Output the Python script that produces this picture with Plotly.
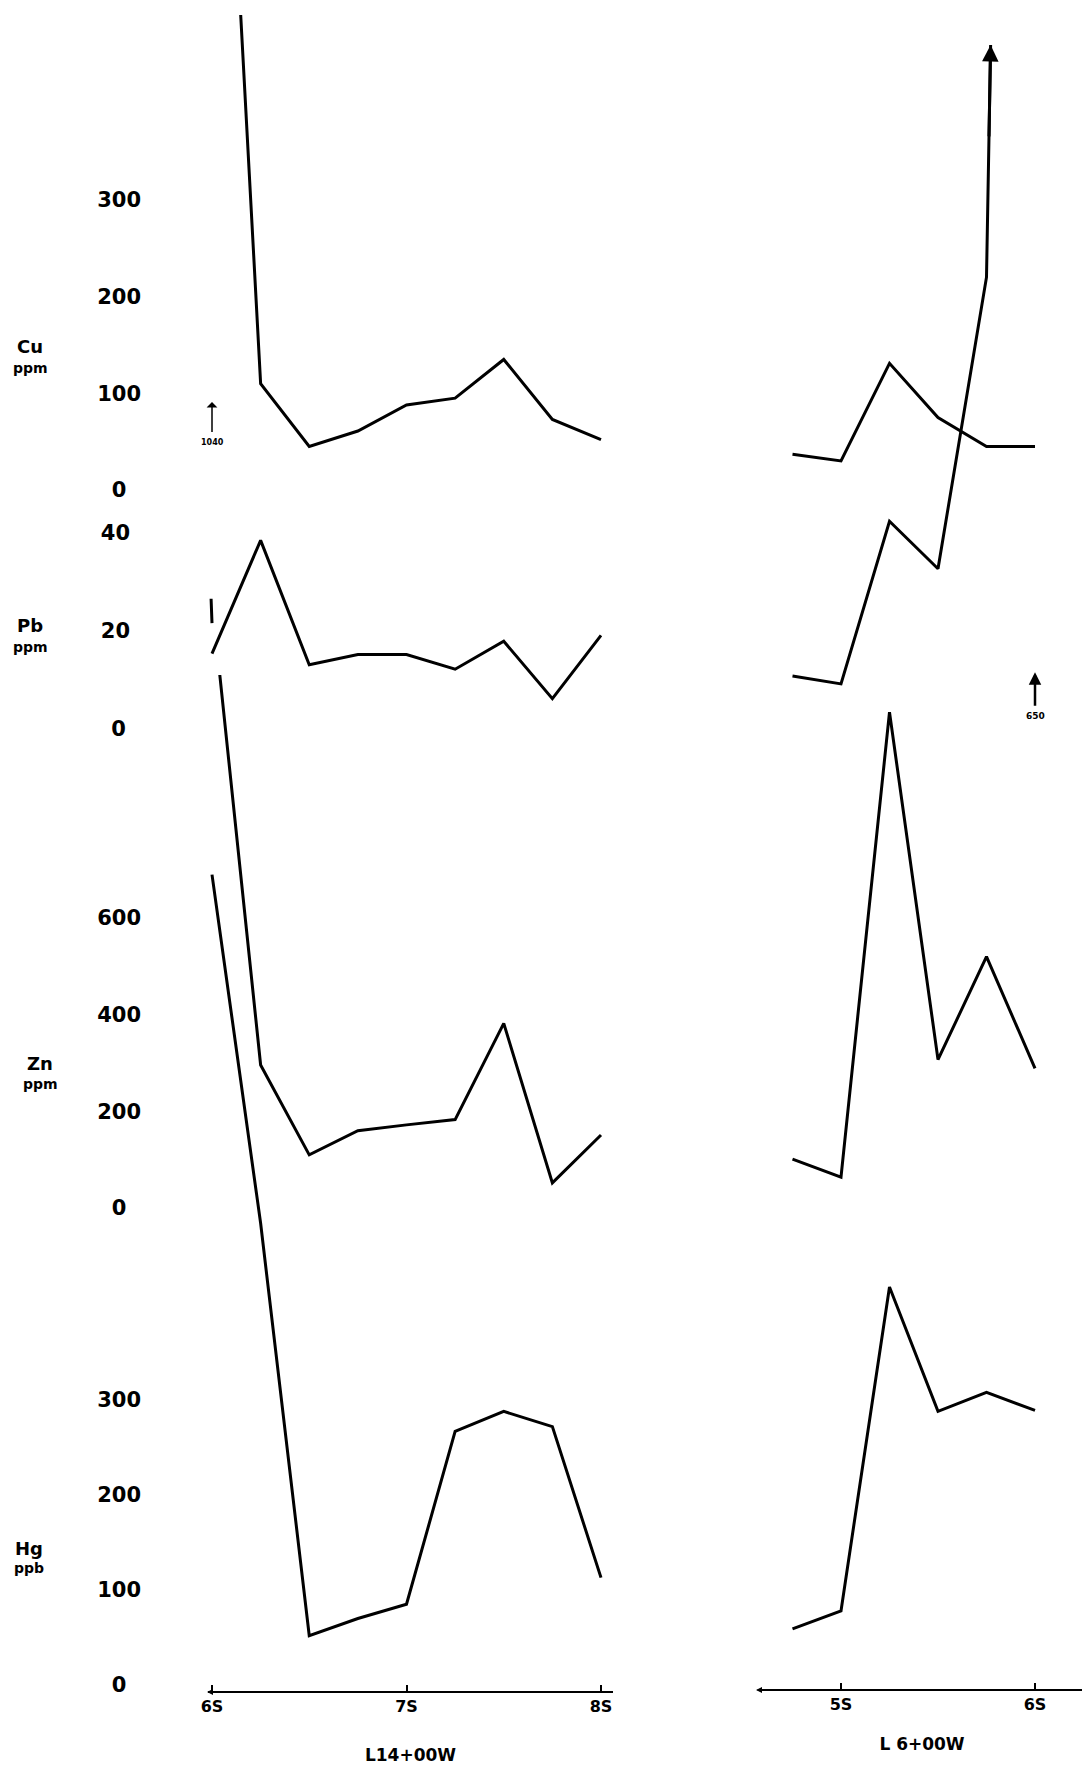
import plotly.graph_objects as go

# ---------------- data (read from the scanned profile) ----------------
L14_STATIONS = [6.0, 6.25, 6.5, 6.75, 7.0, 7.25, 7.5, 7.75, 8.0]
L6_STATIONS = [4.75, 5.0, 5.25, 5.5, 5.75, 6.0]

CU_L14 = [1040, 110, 45, 61, 88, 95, 135, 73, 52]
CU_L6 = [37, 30, 131, 75, 45, 45]
PB_L14 = [15.4, 38.5, 13.1, 15.2, 15.2, 12.2, 17.9, 6.2, 19.1]
PB_L6 = [10.8, 9.2, 42.4, 32.7, 92.2, 650]
ZN_L14 = [1257, 296, 110, 160, 172, 183, 382, 52, 151]
ZN_L6 = [101, 64, 1026, 307, 520, 289]
HG_L14 = [853, 486, 52, 70, 85, 267, 288, 272, 113]
HG_L6 = [59, 78, 419, 288, 308, 289]

CU_TICKS = [0, 100, 200, 300]
PB_TICKS = [0, 20, 40]
ZN_TICKS = [0, 200, 400, 600]
HG_TICKS = [0, 100, 200, 300]
L14_TICKS = [6, 7, 8]
L14_LABELS = ["6S", "7S", "8S"]
L6_TICKS = [5, 6]
L6_LABELS = ["5S", "6S"]

# ---------------- geometry ----------------
# the page body keeps its default 8 px margin, so the figure is 16 px smaller
OFF = 8
W, H = 1090 - 2 * OFF, 1773 - 2 * OFF
FONT = "DejaVu Sans"


def py(p):
    """screen pixel row -> paper y"""
    return 1 - (p - OFF) / H


def px(p):
    """screen pixel column -> paper x"""
    return (p - OFF) / W


def yrange(zero_px, scale, top_px, bottom_px):
    return [(zero_px - bottom_px) / scale, (zero_px - top_px) / scale]


# zero pixel, px per unit, domain top px, domain bottom px (screen rows)
PANELS = {
    "Cu": (490, 0.967, 15, 510),
    "Pb": (729, 4.9, 45, 745),
    "Zn": (1208, 0.4833, 675, 1225),
    "Hg": (1685, 0.95, 860, 1688),
}

fig = go.Figure()

LINE = dict(color="black", width=3)
series = [
    (L14_STATIONS, CU_L14, "x", "y"), (L6_STATIONS, CU_L6, "x2", "y"),
    (L14_STATIONS, PB_L14, "x", "y2"), (L6_STATIONS, PB_L6, "x2", "y2"),
    (L14_STATIONS, ZN_L14, "x", "y3"), (L6_STATIONS, ZN_L6, "x2", "y3"),
    (L14_STATIONS, HG_L14, "x", "y4"), (L6_STATIONS, HG_L6, "x2", "y4"),
]
for xs, ys, xa, ya in series:
    fig.add_trace(go.Scatter(x=xs, y=ys, mode="lines", line=LINE,
                             xaxis=xa, yaxis=ya, showlegend=False,
                             hoverinfo="skip"))


def tick_text(vals, pad):
    out = []
    for v in vals:
        s = str(v)
        if len(s) == 1:
            s = s + pad
        out.append(s)
    return out


def yaxis_cfg(name, ticks, pos_px, pad="\u2007"):
    z, s, t, b = PANELS[name]
    return dict(domain=[py(b), py(t)], range=yrange(z, s, t, b),
                anchor="free", position=px(pos_px), side="left",
                showgrid=False, zeroline=False, showline=False, ticks="",
                tickvals=ticks, ticktext=tick_text(ticks, pad), automargin=False,
                tickfont=dict(family=FONT, size=21, color="black", weight="bold"))


xbase = dict(anchor="free", showgrid=False, zeroline=False, showline=True,
             linecolor="black", linewidth=2, ticks="inside", ticklen=6,
             tickwidth=2, tickcolor="black", automargin=False,
             tickfont=dict(family=FONT, size=16, color="black", weight="bold"))

L14_X0, L14_X1 = 212, 601      # screen columns of 6S and 8S
L6_X0, L6_X1 = 841, 1035       # screen columns of 5S and 6S
s14 = (L14_X1 - L14_X0) / 2
s6 = (L6_X1 - L6_X0) / 1
L6_LEFT = 762
L6_RIGHT = OFF + W

fig.update_layout(
    width=W, height=H, margin=dict(l=0, r=0, t=0, b=0),
    paper_bgcolor="white", plot_bgcolor="rgba(0,0,0,0)",
    xaxis=dict(xbase, domain=[px(208), px(613)],
               range=[6 - (L14_X0 - 208) / s14, 8 + (613 - L14_X1) / s14],
               position=py(1692),
               tickvals=L14_TICKS, ticktext=L14_LABELS,
               title=dict(text="L14+00W", standoff=35,
                          font=dict(family=FONT, size=17, color="black", weight="bold"))),
    xaxis2=dict(xbase, domain=[px(L6_LEFT), 1.0],
                range=[5 - (L6_X0 - L6_LEFT) / s6, 6 + (L6_RIGHT - L6_X1) / s6],
                position=py(1690),
                tickvals=L6_TICKS, ticktext=L6_LABELS,
                title=dict(text="L 6+00W", standoff=24,
                           font=dict(family=FONT, size=17, color="black", weight="bold"))),
    yaxis=yaxis_cfg("Cu", CU_TICKS, 141),
    yaxis2=yaxis_cfg("Pb", PB_TICKS, 130, pad="\u2009"),
    yaxis3=yaxis_cfg("Zn", ZN_TICKS, 141),
    yaxis4=yaxis_cfg("Hg", HG_TICKS, 141),
)

ann = []
# element / unit labels
LABELS = [("Cu", "ppm", 30, 347, 368), ("Pb", "ppm", 30, 625, 647),
          ("Zn", "ppm", 40, 1063, 1084), ("Hg", "ppb", 29, 1548, 1568)]
for el, unit, cx, ey, uy in LABELS:
    ann.append(dict(text=el, x=px(cx), y=py(ey), xref="paper", yref="paper",
                    showarrow=False, xanchor="center", yanchor="middle",
                    font=dict(family=FONT, size=18, color="black", weight="bold")))
    ann.append(dict(text=unit, x=px(cx), y=py(uy), xref="paper", yref="paper",
                    showarrow=False, xanchor="center", yanchor="middle",
                    font=dict(family=FONT, size=14, color="black", weight="bold")))

# off-scale value notes
ann.append(dict(text=str(CU_L14[0]), x=L14_STATIONS[0], y=91, xref="x", yref="y",
                ax=0, ay=40, showarrow=True, arrowhead=1, arrowsize=1.2,
                arrowwidth=1.5, startstandoff=4, arrowcolor="black",
                font=dict(family=FONT, size=8, color="black", weight="bold")))
ann.append(dict(text=str(PB_L6[-1]), x=L6_STATIONS[-1], y=11.6, xref="x2", yref="y2",
                ax=0, ay=44, showarrow=True, arrowhead=2, arrowsize=1,
                arrowwidth=2.5, startstandoff=4, arrowcolor="black",
                font=dict(family=FONT, size=9, color="black", weight="bold")))

# arrow head where the Pb L6 line leaves the chart
pb_top = fig.layout.yaxis2.range[1]
x0, y0 = L6_STATIONS[-2], PB_L6[-2]
x1, y1 = L6_STATIONS[-1], PB_L6[-1]
xh = x0 + (x1 - x0) * (pb_top - y0) / (y1 - y0)
ann.append(dict(text="", x=xh, y=pb_top, xref="x2", yref="y2",
                ax=x0 + (xh - x0) * 0.6, ay=y0 + (pb_top - y0) * 0.6,
                axref="x2", ayref="y2", showarrow=True, arrowhead=2,
                arrowsize=1.1, arrowwidth=3, arrowcolor="black"))

# small mark above the Pb 6S point on L14
ann.append(dict(text="", x=L14_STATIONS[0], y=21.6, xref="x", yref="y2",
                ax=L14_STATIONS[0] - 0.005, ay=26.9, axref="x", ayref="y2",
                showarrow=True, arrowhead=0, arrowwidth=3, arrowcolor="black"))

# little arrows at the start of the traverse lines
ann.append(dict(text="", x=px(207), y=py(1692), xref="paper", yref="paper",
                ax=12, ay=0, showarrow=True, arrowhead=2, arrowsize=0.8,
                arrowwidth=1.5, arrowcolor="black"))
ann.append(dict(text="", x=px(756), y=py(1690), xref="paper", yref="paper",
                ax=10, ay=0, showarrow=True, arrowhead=2, arrowsize=0.8,
                arrowwidth=1.5, arrowcolor="black"))

fig.update_layout(annotations=ann)
fig.write_html("out.html")
